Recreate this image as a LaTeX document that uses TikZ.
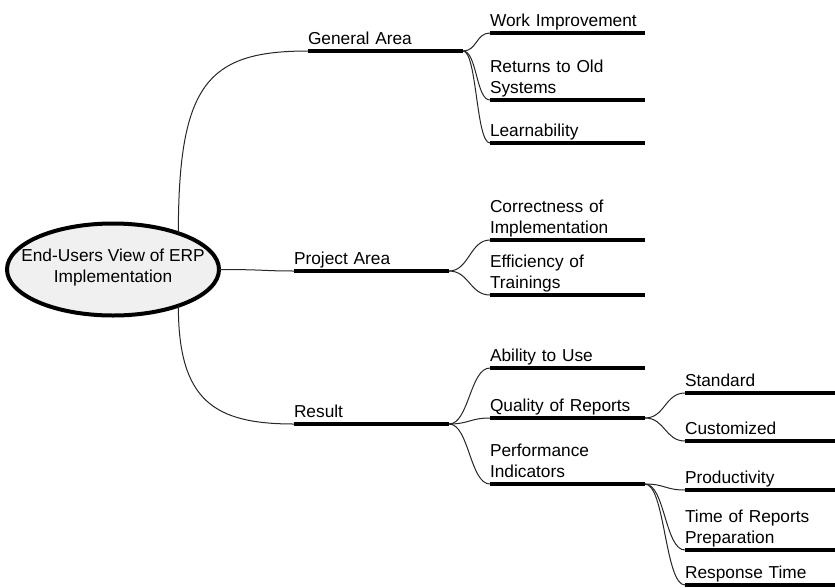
\documentclass[tikz,border=0pt]{standalone}
\usepackage{fontspec}
\setmainfont{Liberation Sans}
\usetikzlibrary{shapes.geometric}

\begin{document}
\begin{tikzpicture}[
		x=1pt,
		y=-1pt,
		every node/.style={
			font=\fontsize{17.3}{21.5}\selectfont,
			inner sep=0pt,
			outer sep=0pt,
		},
		central/.style={
			ellipse,
			draw,
			line width=4pt,
			fill=gray!12,
			minimum width=212pt,
			minimum height=92pt,
		},
		topic/.style={
			anchor=south west,
			text width=155pt,
			align=left,
		},
		subtopic/.style={
			topic,
			text width=150pt,
		},
		bar/.style={
			line width=4pt,
		},
		link/.style={
			line width=1pt,
			draw=black!85,
		},
	]
		\useasboundingbox (0,0) rectangle (835,587);

		\node[central, label={[align=center, yshift=2pt]center:End-Users View of ERP\\Implementation}] (erp) at (113,269.5) {};

		\node[topic] (general) at (308,51) {General Area\strut};
		\node[topic] (project) at (294,271) {Project Area\strut};
		\node[topic] (result) at (294,424) {Result\strut};

		\node[topic] (workimpr) at (490,33) {Work Improvement\strut};
		\node[topic] (returns) at (490,100) {Returns to Old\\Systems\strut};
		\node[topic] (learn) at (490,143) {Learnability\strut};

		\node[topic] (correct) at (490,240) {Correctness of\\Implementation\strut};
		\node[topic] (effic) at (490,295) {Efficiency of\\Trainings\strut};

		\node[topic] (ability) at (490,368) {Ability to Use\strut};
		\node[topic] (quality) at (490,418) {Quality of Reports\strut};
		\node[topic] (perf) at (490,484) {Performance\\Indicators\strut};

		\node[subtopic] (standard) at (685,393) {Standard\strut};
		\node[subtopic] (custom) at (685,441) {Customized\strut};
		\node[subtopic] (product) at (685,490) {Productivity\strut};
		\node[subtopic] (timerep) at (685,550) {Time of Reports\\Preparation\strut};
		\node[subtopic] (resptime) at (685,585) {Response Time\strut};

		\foreach \n in {general,project,result,workimpr,returns,learn,correct,effic,ability,quality,perf,standard,custom,product,timerep,resptime}
			\draw[bar] (\n.south west) -- (\n.south east);

		\draw[link] (erp.29) .. controls +(0,-150) and +(-100,0) .. (general.south west);
		\draw[link] (erp.east) .. controls +(45,0) and +(-30,0) .. (project.south west);
		\draw[link] (erp.-29) .. controls +(0,95) and +(-80,0) .. (result.south west);

		\foreach \c in {workimpr,returns,learn}
			\draw[link] (general.south east) .. controls +(14,0) and +(-14,0) .. (\c.south west);
		\foreach \c in {correct,effic}
			\draw[link] (project.south east) .. controls +(20,0) and +(-20,0) .. (\c.south west);
		\foreach \c in {ability,quality,perf}
			\draw[link] (result.south east) .. controls +(20,0) and +(-20,0) .. (\c.south west);
		\foreach \c in {standard,custom}
			\draw[link] (quality.south east) .. controls +(20,0) and +(-20,0) .. (\c.south west);
		\foreach \c in {product,timerep,resptime}
			\draw[link] (perf.south east) .. controls +(20,0) and +(-20,0) .. (\c.south west);
	\end{tikzpicture}
\end{document}
